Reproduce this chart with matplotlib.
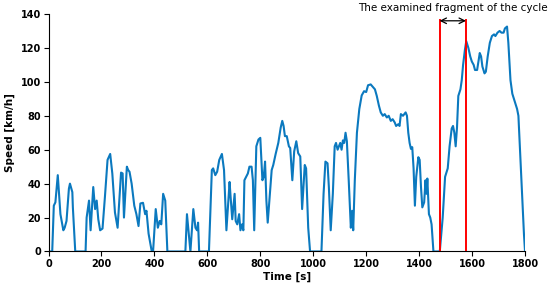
import matplotlib
matplotlib.use("Agg")
import matplotlib.pyplot as plt

time_s = [0, 14, 20, 26, 35, 45, 56, 61, 68, 77, 81, 90, 92, 101, 140, 144, 153, 159, 169, 176,
          182, 188, 195, 204, 213, 223, 233, 241, 251, 261, 274, 280, 285, 296, 301, 306, 314, 324,
          332, 340, 347, 357, 365, 370, 378, 390, 395, 405, 413, 420, 426, 433, 441, 449, 517, 523,
          530, 536, 547, 555, 561, 565, 569, 606, 617, 622, 630, 637, 645, 655, 663, 672, 684, 687,
          694, 703, 707, 713, 720, 725, 731, 736, 740, 753, 759, 767, 772, 777, 785, 793, 800, 808,
          813, 818, 823, 828, 836, 843, 849, 858, 868, 877, 883, 888, 893, 900, 908, 913, 921, 928,
          936, 943, 951, 958, 968, 973, 981, 988, 1031, 1039, 1046, 1054, 1059, 1066, 1074, 1081,
          1086, 1092, 1097, 1102, 1107, 1112, 1117, 1122, 1127, 1134, 1142, 1147, 1151, 1157, 1165,
          1174, 1183, 1192, 1200, 1207, 1217, 1225, 1233, 1240, 1248, 1255, 1263, 1270, 1278, 1285,
          1293, 1300, 1308, 1313, 1321, 1326, 1331, 1339, 1344, 1349, 1354, 1359, 1364, 1369, 1374,
          1379, 1384, 1389, 1397, 1402, 1407, 1412, 1419, 1424, 1428, 1431, 1437, 1442, 1447, 1454,
          1478, 1489, 1498, 1508, 1515, 1523, 1528, 1533, 1538, 1543, 1548, 1556, 1561, 1566, 1573,
          1578, 1586, 1593, 1599, 1606, 1611, 1619, 1624, 1629, 1634, 1639, 1647, 1652, 1659, 1667,
          1675, 1683, 1688, 1696, 1704, 1711, 1719, 1724, 1732, 1737, 1745, 1752, 1762, 1770, 1775,
          1783, 1790, 1796, 1800]
speed_kmh = [0, 0, 27, 29, 45, 22, 12.5, 14, 18, 37, 40, 35, 26, 0, 0, 20, 30, 12.5, 38, 25,
             30, 19, 12.5, 13.5, 32, 54, 57.5, 46, 23, 14, 46.5, 46, 20, 50, 48, 47, 40, 27,
             22, 15, 28.3, 28.7, 22, 24, 10.5, 0, 0, 25, 14, 18, 16, 34, 30, 0, 0, 22,
             10.5, 0, 25, 14, 12.5, 17, 0, 0, 48, 49, 45, 47, 54, 57.5, 48, 12.5, 41, 34,
             19, 34, 18, 16, 22, 12.5, 16, 12.5, 42, 46, 50, 50, 42, 12.5, 62, 66, 67, 42,
             44, 53, 30, 17, 34, 48, 51, 57.5, 64, 73, 77, 74, 68, 68, 62, 61, 42, 59,
             65, 58, 56, 25, 51, 49, 14, 0, 0, 34, 53, 52, 38, 12.5, 34, 62,
             64, 60, 62, 64, 60, 65.5, 64, 70, 65, 42, 14, 24, 12.5, 42, 70,
             84, 92, 94.5, 94, 98, 98.5, 97, 95.6, 91.7, 86, 82, 80, 81, 79, 80,
             77, 78, 76, 74, 75, 74, 81, 80, 81, 82, 80, 70, 64, 60.5, 61.5,
             49, 27, 44, 55.6, 54, 38, 26, 29, 42, 34, 43, 22, 20, 16, 0,
             0, 20, 44, 49, 62, 72.5, 74, 70, 62, 73, 91.7, 95.6, 101, 110, 119,
             124, 120, 115, 112, 110, 107, 107, 112, 117, 115, 109, 105, 106, 115, 123,
             127, 128, 127, 129, 130, 129, 129, 131.5, 132.6, 123, 101, 93, 88, 84, 80,
             54, 30, 10, 0]

fragment_start = 1477
fragment_end = 1577
fragment_label = "The examined fragment of the cycle"
x_ticks = [0, 200, 400, 600, 800, 1000, 1200, 1400, 1600, 1800]
y_ticks = [0, 20, 40, 60, 80, 100, 120, 140]

fig = plt.figure(figsize=(5.5, 2.9), dpi=100)
ax = fig.add_axes([0.0882, 0.1328, 0.8664, 0.8189])

ax.plot(time_s, speed_kmh, color="#0b79bf", lw=1.5, zorder=2)
ax.plot([fragment_start, fragment_start], [0, 136.5], color="red", lw=1.4, zorder=3)
ax.plot([fragment_end, fragment_end], [0, 136.5], color="red", lw=1.4, zorder=3)
ax.annotate("", xy=(fragment_start, 136), xytext=(fragment_end, 136),
            arrowprops=dict(arrowstyle="<->", color="black", lw=0.9,
                            shrinkA=0, shrinkB=0), annotation_clip=False)
ax.text(1528, 143.5, fragment_label, ha="center", va="center", fontsize=7.5, clip_on=False)

ax.set_xlim(0, 1800)
ax.set_ylim(0, 140)
ax.set_xticks(x_ticks)
ax.set_yticks(y_ticks)
for lab in ax.get_xticklabels() + ax.get_yticklabels():
    lab.set_fontweight("bold")
    lab.set_fontsize(7)
ax.set_xlabel("Time [s]", fontweight="bold", fontsize=7.5, labelpad=2)
ax.set_ylabel("Speed [km/h]", fontweight="bold", fontsize=7.5, labelpad=4)
ax.spines["top"].set_visible(False)
ax.spines["right"].set_visible(False)
ax.tick_params(length=3.5, width=0.8, pad=2)

fig.savefig("out.png", dpi=100)
